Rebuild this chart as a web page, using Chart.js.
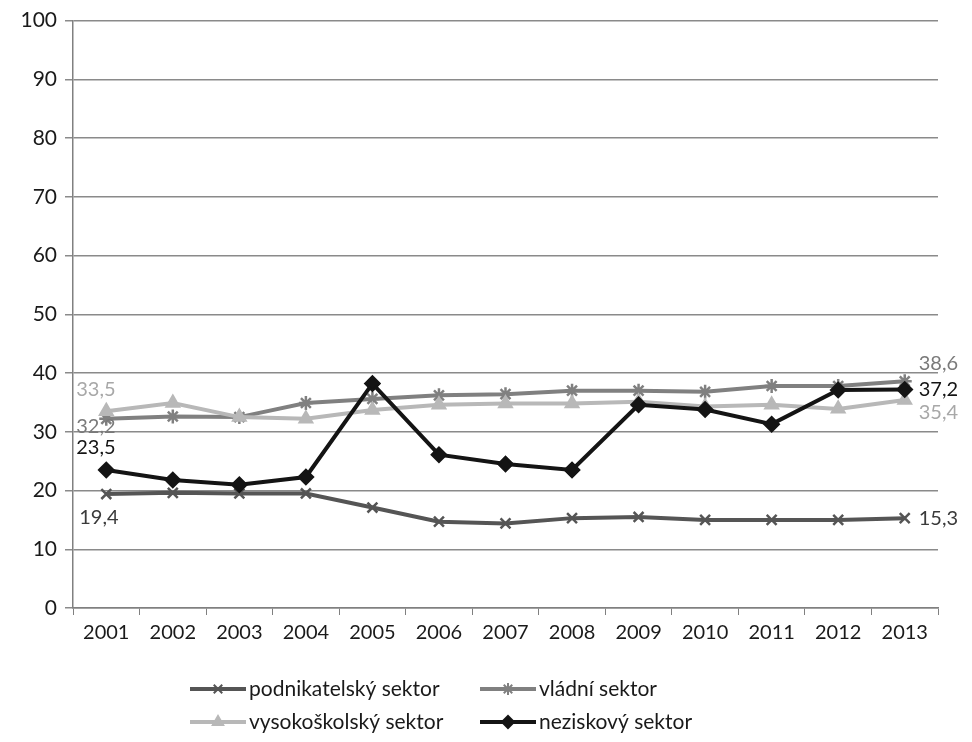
<!DOCTYPE html>
<html>
<head>
<meta charset="utf-8">
<script src="https://cdn.jsdelivr.net/npm/chart.js@4"></script>
<style>
  html, body { margin: 0; padding: 0; background: #fff; }
  #wrap { width: 972px; height: 742px; }
</style>
</head>
<body>
<div id="wrap"><canvas id="chart"></canvas></div>
<script>
const years = ['2001', '2002', '2003', '2004', '2005', '2006', '2007', '2008', '2009', '2010', '2011', '2012', '2013'];
const podnikatelsky = [19.4, 19.6, 19.5, 19.5, 17.1, 14.7, 14.4, 15.3, 15.5, 15.0, 15.0, 15.0, 15.3];
const vladni = [32.2, 32.6, 32.5, 34.9, 35.6, 36.2, 36.4, 37.0, 37.0, 36.8, 37.8, 37.8, 38.6];
const vysokoskolsky = [33.5, 34.9, 32.5, 32.2, 33.7, 34.6, 34.8, 34.8, 35.1, 34.3, 34.6, 33.9, 35.4];
const neziskovy = [23.5, 21.8, 21.0, 22.3, 38.2, 26.1, 24.5, 23.5, 34.6, 33.8, 31.3, 37.1, 37.2];
const yTicks = [0, 10, 20, 30, 40, 50, 60, 70, 80, 90, 100];

const FONT = 'Lato, "Open Sans", sans-serif';

function fmt(v) {
    return v.toFixed(1).replace('.', ',');
}

// value labels on the first and last point of each line
const endLabels = {
    id: 'endLabels',
    afterDatasetsDraw(chart) {
        const ctx = chart.ctx;
        ctx.save();
        ctx.font = '20px ' + FONT;
        chart.data.datasets.forEach((ds, i) => {
            const pts = chart.getDatasetMeta(i).data;
            const first = pts[0], last = pts[pts.length - 1];
            const o = ds.labelOffsets;
            ctx.fillStyle = ds.labelColor;
            ctx.textBaseline = 'middle';
            ctx.textAlign = 'left';
            ctx.fillText(fmt(ds.data[0]), first.x + o[0], first.y + o[1]);
            ctx.fillText(fmt(ds.data[ds.data.length - 1]), last.x + o[2], last.y + o[3]);
        });
        ctx.restore();
    }
};

// two-column legend under the axis
const gridLegend = {
    id: 'gridLegend',
    afterDraw(chart) {
        const ctx = chart.ctx;
        const cols = [190, 480];
        const rows = [689, 722];
        ctx.save();
        ctx.font = '21px ' + FONT;
        ctx.textBaseline = 'middle';
        ctx.textAlign = 'left';
        chart.data.datasets.forEach((ds, i) => {
            const x = cols[i % 2], y = rows[Math.floor(i / 2)];
            ctx.strokeStyle = ds.borderColor;
            ctx.fillStyle = ds.borderColor;
            ctx.lineWidth = 4;
            ctx.beginPath();
            ctx.moveTo(x, y);
            ctx.lineTo(x + 56, y);
            ctx.stroke();
            ctx.lineWidth = 2;
            Chart.helpers.drawPoint(ctx, {
                pointStyle: ds.pointStyle,
                radius: 6,
                rotation: 0,
                borderWidth: 2
            }, x + 28, y);
            ctx.fillStyle = '#1a1a1a';
            ctx.fillText(ds.label, x + 59, y);
        });
        ctx.restore();
    }
};

function series(label, data, color, style, radius, order, offsets, labelColor) {
    return {
        label: label,
        data: data,
        borderColor: color,
        backgroundColor: color,
        pointBackgroundColor: color,
        pointBorderColor: color,
        borderWidth: 4,
        pointStyle: style,
        pointRadius: radius,
        pointHoverRadius: radius,
        pointBorderWidth: 2.5,
        tension: 0,
        order: order,
        labelOffsets: offsets,
        labelColor: labelColor
    };
}

new Chart(document.getElementById('chart'), {
    type: 'line',
    data: {
        labels: years,
        datasets: [
            series('podnikatelský sektor', podnikatelsky, '#555555', 'crossRot', 7, 3, [-27, 24, 14, 0], '#3a3a3a'),
            series('vládní sektor', vladni, '#808080', 'star', 7, 2, [-30, 8, 14, -18], '#7a7a7a'),
            series('vysokoškolský sektor', vysokoskolsky, '#b8b8b8', 'triangle', 7, 1, [-30, -22, 14, 12], '#a8a8a8'),
            series('neziskový sektor', neziskovy, '#141414', 'rectRot', 7, 0, [-30, -22, 14, 0], '#141414')
        ]
    },
    options: {
        responsive: true,
        maintainAspectRatio: false,
        animation: false,
        layout: { padding: { top: 12, right: 34, bottom: 84, left: 0 } },
        plugins: {
            legend: { display: false },
            tooltip: { enabled: false }
        },
        scales: {
            x: {
                offset: true,
                grid: {
                    offset: true,
                    drawOnChartArea: false,
                    color: '#808080',
                    tickLength: 7
                },
                border: { color: '#808080', width: 1.5 },
                ticks: { color: '#1a1a1a', font: { family: FONT, size: 20 }, padding: 6, maxRotation: 0 },
                afterFit(scale) { scale.height = 50; }
            },
            y: {
                min: 0,
                max: 100,
                afterBuildTicks(scale) { scale.ticks = yTicks.map(v => ({ value: v })); },
                grid: { color: '#8a8a8a', lineWidth: 1.5, tickLength: 8 },
                border: { color: '#808080', width: 1.5 },
                ticks: { color: '#1a1a1a', font: { family: FONT, size: 21 }, padding: 8 },
                afterFit(scale) { scale.width = 73; }
            }
        }
    },
    plugins: [endLabels, gridLegend]
});
</script>
</body>
</html>
